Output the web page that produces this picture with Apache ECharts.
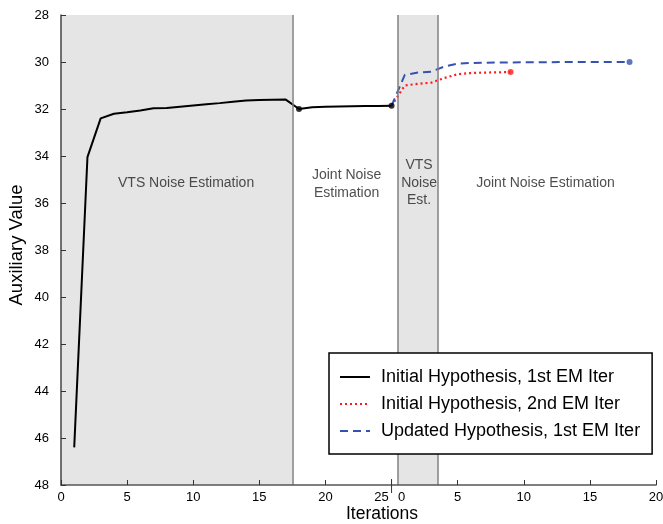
<!DOCTYPE html>
<html>
<head>
<meta charset="utf-8">
<script src="https://cdn.jsdelivr.net/npm/echarts@6/dist/echarts.min.js"></script>
<style>
html,body{margin:0;padding:0;background:#fff;}
#chart{width:663px;height:524px;}
</style>
</head>
<body>
<div id="chart"></div>
<script>
// ---- data ----
// First stage (global iteration numbers 1..25)
const blackIter = [1,2,3,4,5,6,7,8,9,10,11,12,13,14,15,16,17,18,19,20,21,22,23,24,25];
const blackVals = [46.4,34.05,32.4,32.2,32.14,32.06,31.97,31.96,31.9,31.85,31.8,31.75,31.69,31.64,31.62,31.61,31.6,32.0,31.93,31.9,31.89,31.88,31.87,31.87,31.86];
// Second stage (local iteration numbers, offset by 25 on the shared axis)
const stageOffset = 25;
const redIter = [0,1,2,3,4,5,6,7,8,9];
const redVals = [31.86,31.0,30.93,30.88,30.68,30.52,30.47,30.45,30.44,30.43];
const blueIter = [0,1,2,3,4,5,6,7,8,9,10,11,12,13,14,15,16,17,18];
const blueVals = [31.86,30.55,30.45,30.41,30.19,30.07,30.04,30.03,30.02,30.02,30.01,30.01,30.01,30.0,30.0,30.0,30.0,30.0,30.0];
// markers: black at iter 18 and 25; red/blue at their ends
const blackDotIter = [18,25];

const seriesNames = ['Initial Hypothesis, 1st EM Iter','Initial Hypothesis, 2nd EM Iter','Updated Hypothesis, 1st EM Iter'];
// shaded region spans (global iteration) and boundaries
const shadedSpans = [[0,17.5],[25.5,28.5]];
const boundaries = [17.5,25.5,28.5];
// annotations
const annotX = [9.46, 21.6, 27.08, 36.64];
const annotY = [35.15, 35.19, 35.15, 35.15];
const annotText = ['VTS Noise Estimation','Joint Noise\nEstimation','VTS\nNoise\nEst.','Joint Noise Estimation'];
// axis
const xMin = 0, xMax = 45, xStep = 5;
const yMin = 28, yMax = 48, yStep = 2;

const FONT = "'Liberation Sans', Arial, sans-serif";

const blackData = blackIter.map((x,i)=>[x, blackVals[i]]);
const redData = redIter.map((x,i)=>[x+stageOffset, redVals[i]]);
const blueData = blueIter.map((x,i)=>[x+stageOffset, blueVals[i]]);
const blackDots = blackDotIter.map(x=>[x, blackVals[blackIter.indexOf(x)]]);
const redDot = [redData[redData.length-1]];
const blueDot = [blueData[blueData.length-1]];

const chart = echarts.init(document.getElementById('chart'), null, {renderer:'canvas'});
chart.setOption({
  animation:false,
  backgroundColor:'#fff',
  textStyle:{fontFamily:FONT},
  grid:{left:61, right:7, top:15, bottom:39, containLabel:false, outerBoundsMode:'none'},
  legend:{
    data:seriesNames,
    orient:'vertical',
    left:329, top:353, z:50,
    padding:[15,12,14,10],
    itemGap:9,
    itemWidth:30, itemHeight:14,
    backgroundColor:'#fff',
    borderColor:'#000', borderWidth:1.5, borderRadius:0,
    itemStyle:{opacity:0},
    textStyle:{fontFamily:FONT, fontSize:18, lineHeight:18, color:'#000', padding:[0,0,0,6]},
    selectedMode:false
  },
  xAxis:{
    type:'value', min:xMin, max:xMax, interval:xStep, z:10,
    name:'Iterations', nameLocation:'middle', nameGap:20, nameMoveOverlap:false,
    nameTextStyle:{fontFamily:FONT, fontSize:17.5, color:'#000', padding:[0,0,0,47]},
    axisLine:{lineStyle:{color:'#555', width:1.5}},
    axisTick:{inside:true, length:5, lineStyle:{color:'#333', width:1}},
    splitLine:{show:false},
    axisLabel:{
      fontFamily:FONT, fontSize:13, color:'#000', margin:6,
      formatter:v => v === stageOffset ? '{l|25}{r|0}' : String(v > stageOffset ? v - stageOffset : v),
      rich:{
        l:{fontFamily:FONT, fontSize:13, color:'#000', width:16, align:'right', padding:[0,2,0,0]},
        r:{fontFamily:FONT, fontSize:13, color:'#000', width:16, align:'left', padding:[0,0,0,2]}
      }
    }
  },
  yAxis:{
    type:'value', min:yMin, max:yMax, interval:yStep, inverse:true, z:10,
    name:'Auxiliary Value', nameLocation:'middle', nameGap:35, nameMoveOverlap:false,
    nameTextStyle:{fontFamily:FONT, fontSize:18.5, color:'#000', padding:[0,0,0,10]},
    axisLine:{lineStyle:{color:'#444', width:1.5}},
    axisTick:{inside:true, length:5, lineStyle:{color:'#333', width:1}},
    splitLine:{show:false},
    axisLabel:{fontFamily:FONT, fontSize:13, color:'#000', margin:12}
  },
  series:[
    {
      name:'regions', type:'line', data:[], z:1, silent:true,
      symbol:'none', lineStyle:{opacity:0},
      markArea:{
        silent:true,
        itemStyle:{color:'#e5e5e5', borderWidth:0},
        data:shadedSpans.map(s=>[{xAxis:s[0], yAxis:yMin},{xAxis:s[1], yAxis:yMax}])
      },
      markLine:{
        silent:true, symbol:['none','none'], label:{show:false},
        lineStyle:{color:'#808080', width:1.5, type:'solid'},
        data:boundaries.map(b=>({xAxis:b}))
      }
    },
    {
      name:seriesNames[0], type:'line', data:blackData, z:3, symbol:'none',
      color:'#000', lineStyle:{color:'#000', width:2}
    },
    {
      name:seriesNames[1], type:'line', data:redData, z:3, symbol:'none',
      color:'#ff1a1a', lineStyle:{color:'#ff1a1a', width:2.2, type:[2,3]}
    },
    {
      name:seriesNames[2], type:'line', data:blueData, z:3, symbol:'none',
      color:'#3652b0', lineStyle:{color:'#3652b0', width:2, type:[8,5]}
    },
    { name:'dotsBlack', type:'scatter', data:blackDots, symbolSize:6, z:4, itemStyle:{color:'#000'}, silent:true },
    { name:'dotsRed', type:'scatter', data:redDot, symbolSize:6, z:4, itemStyle:{color:'#ff1a1a'}, silent:true },
    { name:'dotsBlue', type:'scatter', data:blueDot, symbolSize:6, z:4, itemStyle:{color:'#3652b0'}, silent:true },
    {
      name:'annotations', type:'scatter', z:5, silent:true, symbolSize:0,
      data:annotX.map((x,i)=>({value:[x, annotY[i]], name:annotText[i]})),
      label:{show:true, position:'inside', formatter:p=>p.name, fontFamily:FONT, fontSize:14, lineHeight:17.5, color:'#222', align:'center'}
    },
    {
      name:'separator', type:'custom', z:11, silent:true, clip:false,
      data:[[stageOffset, yMax]],
      renderItem:(params, api)=>{
        const p = api.coord([api.value(0), api.value(1)]);
        return {type:'line', shape:{x1:p[0], y1:p[1]-6, x2:p[0], y2:p[1]+8}, style:{stroke:'#333', lineWidth:1}};
      }
    }
  ]
});
</script>
</body>
</html>
